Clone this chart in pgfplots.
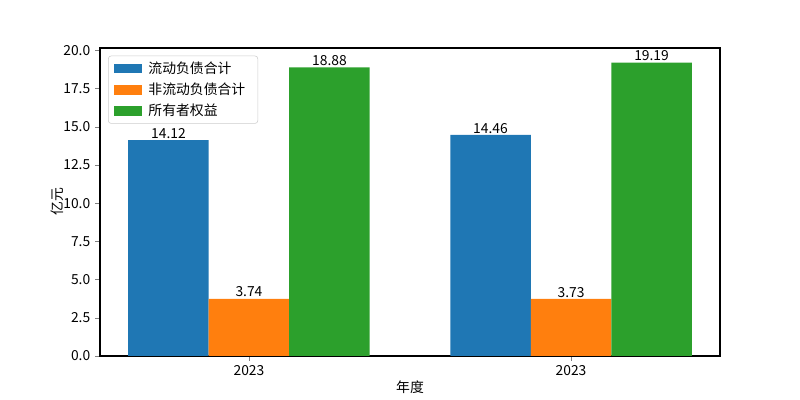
\documentclass[border=0pt]{standalone}
\usepackage{pgfplots}
\pgfplotsset{compat=1.18}
\usepackage{fontspec}
\setmainfont{Noto Sans CJK SC}
\definecolor{tabblue}{HTML}{1F77B4}
\definecolor{taborange}{HTML}{FF7F0E}
\definecolor{tabgreen}{HTML}{2CA02C}
\begin{document}
\begin{tikzpicture}
\useasboundingbox (0pt,0pt) rectangle (578.16pt,289.08pt);
\begin{axis}[
  at={(72.27pt,31.8pt)}, anchor=south west,
  scale only axis, width=448.07pt, height=222.6pt,
  xmin=-0.4625, xmax=1.4625,
  ymin=0, ymax=20.1495,
  xtick={0,1}, xticklabels={2023,2023},
  ytick={0,2.5,5,7.5,10,12.5,15,17.5,20},
  yticklabel style={/pgf/number format/.cd,fixed,fixed zerofill,precision=1},
  /pgf/number format/assume math mode=true,
  tick align=outside, tick pos=lower,
  major tick length=3.5pt,
  tick label style={font=\fontsize{10}{12}\selectfont},
  xlabel={年度}, ylabel={亿元},
  ylabel shift=-7pt, xlabel shift=-3pt,
  label style={font=\fontsize{10}{12}\selectfont},
  ybar, bar width=0.25,
  nodes near coords,
  every node near coord/.append style={font=\fontsize{10}{12}\selectfont, color=black, inner sep=1pt,
    /pgf/number format/.cd,fixed,fixed zerofill,precision=2,assume math mode=true},
  legend style={font=\fontsize{10}{12}\selectfont, draw=black!20, rounded corners=2pt, inner xsep=4pt, inner ysep=2pt,
    row sep=1.5pt, nodes={inner xsep=5pt},
    at={(0.013,0.975)}, anchor=north west},
  legend cell align=left,
  legend image code/.code={\fill[#1, sharp corners] (0pt,-0.35em) rectangle (2em,0.35em);},
  axis line style={line width=0.8pt},
]
\addplot[fill=tabblue, draw=none, bar shift=-0.25] coordinates {(0,14.12) (1,14.46)};
\addplot[fill=taborange, draw=none, bar shift=0] coordinates {(0,3.74) (1,3.73)};
\addplot[fill=tabgreen, draw=none, bar shift=0.25] coordinates {(0,18.88) (1,19.19)};
\legend{流动负债合计,非流动负债合计,所有者权益}
\end{axis}
\end{tikzpicture}
\end{document}
